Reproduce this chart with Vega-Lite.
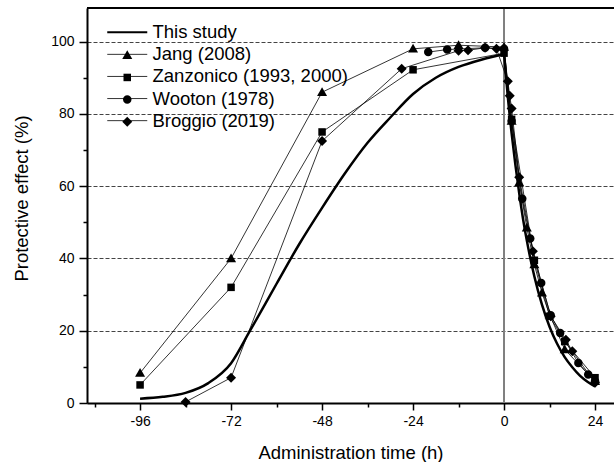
{
  "$schema": "https://vega.github.io/schema/vega-lite/v6.json",
  "width": 527,
  "height": 395,
  "autosize": {"type": "none"},
  "padding": {"left": 87, "top": 8, "right": 0, "bottom": 59},
  "background": "white",
  "config": {
    "font": "Liberation Sans",
    "view": {"stroke": null},
    "axis": {"labelColor": "black", "titleColor": "black", "domainColor": "black", "tickColor": "black", "labelFont": "Liberation Sans", "titleFont": "Liberation Sans", "titleFontWeight": "normal"},
    "legend": {"labelFont": "Liberation Sans"}
  },
  "datasets": {
    "curve": [
      {"s": "This study", "part": "rise", "t": -96, "v": 1.2}, {"s": "This study", "part": "rise", "t": -90, "v": 1.7}, {"s": "This study", "part": "rise", "t": -84, "v": 2.8},
      {"s": "This study", "part": "rise", "t": -78, "v": 5.5}, {"s": "This study", "part": "rise", "t": -72, "v": 11}, {"s": "This study", "part": "rise", "t": -67, "v": 20},
      {"s": "This study", "part": "rise", "t": -60, "v": 33}, {"s": "This study", "part": "rise", "t": -54, "v": 44}, {"s": "This study", "part": "rise", "t": -48, "v": 54},
      {"s": "This study", "part": "rise", "t": -42, "v": 63.5}, {"s": "This study", "part": "rise", "t": -36, "v": 72}, {"s": "This study", "part": "rise", "t": -30, "v": 79},
      {"s": "This study", "part": "rise", "t": -24, "v": 85.5}, {"s": "This study", "part": "rise", "t": -18, "v": 90}, {"s": "This study", "part": "rise", "t": -12, "v": 93},
      {"s": "This study", "part": "rise", "t": -6, "v": 95}, {"s": "This study", "part": "rise", "t": 0, "v": 96.5},
      {"s": "This study", "part": "decay", "t": 0, "v": 96.5}, {"s": "This study", "part": "decay", "t": 1, "v": 84.6}, {"s": "This study", "part": "decay", "t": 2, "v": 74.6},
      {"s": "This study", "part": "decay", "t": 3, "v": 65.8}, {"s": "This study", "part": "decay", "t": 4, "v": 58}, {"s": "This study", "part": "decay", "t": 5, "v": 51},
      {"s": "This study", "part": "decay", "t": 6, "v": 45}, {"s": "This study", "part": "decay", "t": 7, "v": 39.7}, {"s": "This study", "part": "decay", "t": 8, "v": 35},
      {"s": "This study", "part": "decay", "t": 10, "v": 27.2}, {"s": "This study", "part": "decay", "t": 12, "v": 21.1}, {"s": "This study", "part": "decay", "t": 14, "v": 16.4},
      {"s": "This study", "part": "decay", "t": 16, "v": 12.7}, {"s": "This study", "part": "decay", "t": 18, "v": 9.9}, {"s": "This study", "part": "decay", "t": 20, "v": 7.6},
      {"s": "This study", "part": "decay", "t": 22, "v": 5.9}, {"s": "This study", "part": "decay", "t": 24, "v": 4.6}
    ],
    "studies": [
      {"s": "Jang (2008)", "t": -96, "v": 8.3}, {"s": "Jang (2008)", "t": -72, "v": 40}, {"s": "Jang (2008)", "t": -48, "v": 86},
      {"s": "Jang (2008)", "t": -24, "v": 98}, {"s": "Jang (2008)", "t": -12, "v": 99}, {"s": "Jang (2008)", "t": 0, "v": 98.5},
      {"s": "Jang (2008)", "t": 2, "v": 78}, {"s": "Jang (2008)", "t": 4, "v": 61}, {"s": "Jang (2008)", "t": 6, "v": 48.5},
      {"s": "Jang (2008)", "t": 8, "v": 38.3}, {"s": "Jang (2008)", "t": 10, "v": 30.5}, {"s": "Jang (2008)", "t": 12, "v": 24.5},
      {"s": "Jang (2008)", "t": 16, "v": 14.8}, {"s": "Jang (2008)", "t": 24, "v": 6},
      {"s": "Zanzonico (1993, 2000)", "t": -96, "v": 5}, {"s": "Zanzonico (1993, 2000)", "t": -72, "v": 32},
      {"s": "Zanzonico (1993, 2000)", "t": -48, "v": 75}, {"s": "Zanzonico (1993, 2000)", "t": -24, "v": 92.2},
      {"s": "Zanzonico (1993, 2000)", "t": 0, "v": 96.8}, {"s": "Zanzonico (1993, 2000)", "t": 2, "v": 78.5},
      {"s": "Zanzonico (1993, 2000)", "t": 8, "v": 39.5}, {"s": "Zanzonico (1993, 2000)", "t": 12, "v": 24},
      {"s": "Zanzonico (1993, 2000)", "t": 16, "v": 17}, {"s": "Zanzonico (1993, 2000)", "t": 24, "v": 7},
      {"s": "Wooton (1978)", "t": -20, "v": 97.1}, {"s": "Wooton (1978)", "t": -15, "v": 97.8},
      {"s": "Wooton (1978)", "t": -5, "v": 98.3}, {"s": "Wooton (1978)", "t": 0, "v": 98},
      {"s": "Wooton (1978)", "t": 2, "v": 78}, {"s": "Wooton (1978)", "t": 4.8, "v": 56.5},
      {"s": "Wooton (1978)", "t": 6.9, "v": 45.5}, {"s": "Wooton (1978)", "t": 9.8, "v": 33.2},
      {"s": "Wooton (1978)", "t": 12.3, "v": 24.3}, {"s": "Wooton (1978)", "t": 14.8, "v": 19.4},
      {"s": "Wooton (1978)", "t": 19.6, "v": 11.1}, {"s": "Wooton (1978)", "t": 22.2, "v": 7.9},
      {"s": "Wooton (1978)", "t": 24, "v": 6},
      {"s": "Broggio (2019)", "t": -84, "v": 0.3}, {"s": "Broggio (2019)", "t": -72, "v": 7},
      {"s": "Broggio (2019)", "t": -48, "v": 72.5}, {"s": "Broggio (2019)", "t": -27, "v": 92.5},
      {"s": "Broggio (2019)", "t": -12, "v": 97.5}, {"s": "Broggio (2019)", "t": -9.5, "v": 97.6},
      {"s": "Broggio (2019)", "t": -5, "v": 98.3}, {"s": "Broggio (2019)", "t": -2, "v": 98},
      {"s": "Broggio (2019)", "t": 1, "v": 89}, {"s": "Broggio (2019)", "t": 1.5, "v": 85},
      {"s": "Broggio (2019)", "t": 2, "v": 81.5}, {"s": "Broggio (2019)", "t": 4, "v": 62.5},
      {"s": "Broggio (2019)", "t": 7.6, "v": 42}, {"s": "Broggio (2019)", "t": 12.3, "v": 24},
      {"s": "Broggio (2019)", "t": 16.3, "v": 17.5}, {"s": "Broggio (2019)", "t": 18, "v": 14.3},
      {"s": "Broggio (2019)", "t": 24, "v": 5.6}
    ]
  },
  "layer": [
    {
      "data": {"name": "studies"},
      "mark": {"type": "rule", "color": "#808080", "strokeWidth": 1},
      "encoding": {
        "x": {"datum": 0, "type": "quantitative", "axis": null}
      }
    },
    {
      "data": {"name": "studies"},
      "mark": {"type": "line", "color": "black"},
      "encoding": {
        "x": {"field": "t", "type": "quantitative",
          "scale": {"domain": [-110, 29], "nice": false, "zero": false},
          "axis": {"orient": "bottom", "values": [-96, -72, -48, -24, 0, 24], "grid": false, "domainWidth": 2, "tickWidth": 1.5, "tickSize": 7, "labelFontSize": 14, "labelPadding": 4, "labelFlush": false, "labelExpr": "'' + datum.value", "title": "Administration time (h)", "titleFontSize": 18.5, "titleBaseline": "alphabetic", "titleY": 55}},
        "y": {"field": "v", "type": "quantitative",
          "scale": {"domain": [0, 109.3], "nice": false, "zero": false},
          "axis": {"orient": "left", "values": [0, 20, 40, 60, 80, 100], "grid": true, "gridDash": [4, 2], "gridColor": "#444", "gridWidth": 1, "domainWidth": 2, "tickWidth": 1.5, "tickSize": 8, "labelFontSize": 14, "labelPadding": 5, "title": "Protective effect (%)", "titleFontSize": 18.5, "titleBaseline": "alphabetic", "titleX": -60, "titleY": 190}},
        "strokeWidth": {"field": "s", "type": "nominal",
          "scale": {"type": "ordinal", "domain": ["This study", "Jang (2008)", "Zanzonico (1993, 2000)", "Wooton (1978)", "Broggio (2019)"], "range": [2, 0.8, 0.8, 0.8, 0.8]},
          "legend": {"orient": "none", "legendX": 31, "legendY": 15, "title": null, "symbolType": "M-4,0H4", "symbolSize": 100, "symbolStrokeColor": "black", "labelFontSize": 18.5, "labelColor": "black", "labelFontWeight": "normal", "labelOffset": 16, "labelLimit": 0, "rowPadding": 3.1, "padding": 0}},
        "detail": {"field": "s"}
      }
    },
    {
      "data": {"name": "curve"},
      "mark": {"type": "line", "color": "black", "interpolate": "monotone"},
      "encoding": {
        "x": {"field": "t", "type": "quantitative",
          "axis": {"orient": "bottom", "values": [-108, -84, -60, -36, -12, 12], "labels": false, "domain": false, "grid": false, "tickSize": 4, "tickWidth": 1.5, "title": null}},
        "y": {"field": "v", "type": "quantitative",
          "axis": {"orient": "left", "values": [10, 30, 50, 70, 90], "labels": false, "domain": false, "grid": false, "tickSize": 4, "tickWidth": 1.5, "title": null}},
        "strokeWidth": {"field": "s", "type": "nominal", "legend": null},
        "detail": {"field": "part"}
      }
    },
    {
      "data": {"name": "studies"},
      "mark": {"type": "point", "filled": true, "fill": "black", "opacity": 1, "size": 100},
      "encoding": {
        "x": {"field": "t", "type": "quantitative", "axis": null},
        "y": {"field": "v", "type": "quantitative", "axis": null},
        "shape": {"field": "s", "type": "nominal",
          "scale": {"domain": ["Jang (2008)", "Zanzonico (1993, 2000)", "Wooton (1978)", "Broggio (2019)"],
            "range": ["M0,-1L1,0.75L-1,0.75Z", "M-0.75,-0.75H0.75V0.75H-0.75Z", "M0.85,0A0.85,0.85,0,1,1,-0.85,0A0.85,0.85,0,1,1,0.85,0Z", "M0,-1L1,0L0,1L-1,0Z"]},
          "legend": {"orient": "none", "legendX": 31, "legendY": 38.1, "title": null, "symbolSize": 100, "symbolFillColor": "black", "labelFontSize": 18.5, "labelColor": "transparent", "labelOffset": 16, "labelLimit": 0, "rowPadding": 3.1, "padding": 0}
        }
      }
    },
    {
      "data": {"name": "studies"},
      "mark": {"type": "rule", "color": "black", "strokeWidth": 2},
      "encoding": {
        "y": {"datum": 109.3, "type": "quantitative", "axis": null}
      }
    }
  ],
  "resolve": {"axis": {"x": "independent", "y": "independent"}}
}
